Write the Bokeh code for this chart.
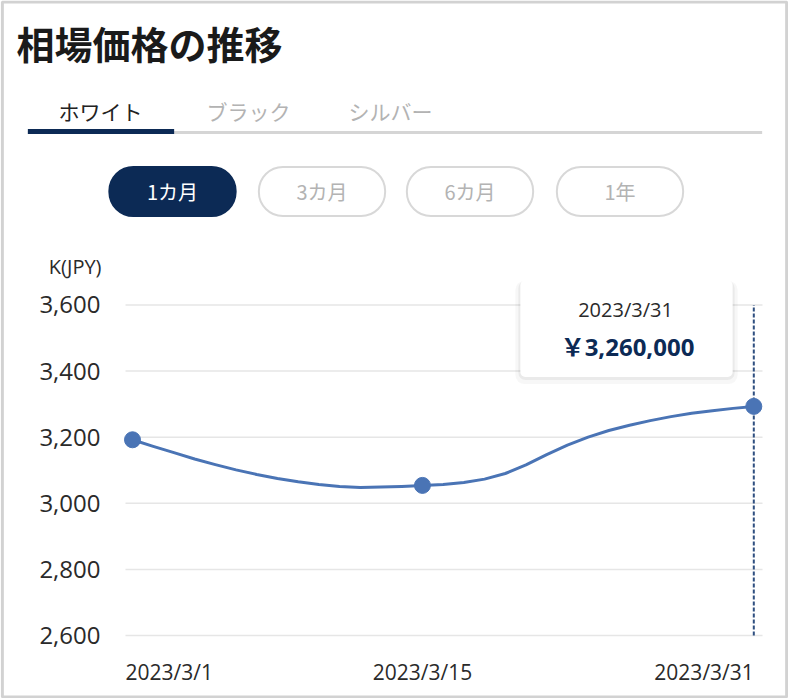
from datetime import datetime, timedelta

from bokeh.plotting import figure
from bokeh.models import (Label, Range1d, FixedTicker, NumeralTickFormatter,
                          LinearAxis)
from bokeh.embed import file_html
from bokeh.resources import INLINE

# ---------------- data ----------------
title = "相場価格の推移"
tabs = ["ホワイト", "ブラック", "シルバー"]
periods = ["1カ月", "3カ月", "6カ月", "1年"]
y_unit = "K(JPY)"

days = list(range(1, 32))  # 2023-03-01 .. 2023-03-31
prices_k = [3192, 3172, 3153, 3134, 3117, 3101, 3087, 3075, 3065, 3057,
            3051, 3048, 3049, 3051, 3054, 3057, 3063, 3073, 3090, 3116,
            3147, 3176, 3200, 3220, 3236, 3250, 3262, 3272, 3280, 3287, 3293]
marker_days = [1, 15, 31]
x_tick_days = [1, 15, 31]
x_tick_labels = ["2023/3/1", "2023/3/15", "2023/3/31"]
y_ticks = [2600, 2800, 3000, 3200, 3400, 3600]
tooltip_day = 31
tooltip_date = "2023/3/31"
tooltip_price = "￥3,260,000"

dates = [datetime(2023, 3, d) for d in days]
marker_dates = [datetime(2023, 3, d) for d in marker_days]
marker_vals = [prices_k[days.index(d)] for d in marker_days]

# ---------------- style / layout ----------------
NAVY = "#0c2a55"
LINE = "#4a74b5"
GRID = "#e6e6e6"
GRAY_TXT = "#b3b3b3"
DARK = "#222222"
JP = "Noto Sans CJK JP"
LAT = "Open Sans"

W, H = 788, 698
# chart area in canvas pixels
CL, CR = 125, 762          # gridline extent
X_FIRST, X_LAST = 132, 753.3
Y_LO_PX, Y_HI_PX = 635.0, 304.4   # pixel rows of y_ticks[0] and y_ticks[-1]

d_first = datetime(2023, 3, x_tick_days[0])
d_last = datetime(2023, 3, x_tick_days[-1])
px_per_day = (X_LAST - X_FIRST) / (x_tick_days[-1] - x_tick_days[0])
px_per_unit = (Y_LO_PX - Y_HI_PX) / (y_ticks[-1] - y_ticks[0])

x_start = d_first - timedelta(days=X_FIRST / px_per_day)
x_end = d_last + timedelta(days=(W - X_LAST) / px_per_day)
y_start = y_ticks[0] - (H - Y_LO_PX) / px_per_unit
y_end = y_ticks[-1] + Y_HI_PX / px_per_unit

chart_left = d_first - timedelta(days=(X_FIRST - CL) / px_per_day)
chart_right = d_last + timedelta(days=(CR - X_LAST) / px_per_day)


def ms(dt):
    return (dt - datetime(1970, 1, 1)).total_seconds() * 1000.0


p = figure(width=W, height=H, x_axis_type="datetime",
           x_range=Range1d(x_start, x_end), y_range=Range1d(y_start, y_end),
           x_axis_location=None, y_axis_location=None,
           min_border=0, output_backend="svg", toolbar_location=None)
p.min_border_left = p.min_border_right = p.min_border_top = p.min_border_bottom = 0
p.background_fill_color = "white"
p.border_fill_color = "white"
p.outline_line_color = None
p.xgrid.visible = False
p.ygrid.visible = False

# y axis drawn at the chart's left edge
yax = LinearAxis(fixed_location=ms(chart_left))
yax.ticker = FixedTicker(ticks=y_ticks)
yax.formatter = NumeralTickFormatter(format="0,0")
yax.axis_line_color = None
yax.major_tick_line_color = None
yax.minor_tick_line_color = None
yax.major_tick_out = 0
yax.major_tick_in = 0
yax.major_label_standoff = 25
yax.major_label_text_font = LAT
yax.major_label_text_font_size = "24px"
yax.major_label_text_color = "#2a2a2a"
p.add_layout(yax, "left")

# horizontal gridlines at the y ticks, limited to the chart width
p.segment(x0=[chart_left] * len(y_ticks), x1=[chart_right] * len(y_ticks),
          y0=y_ticks, y1=y_ticks, line_color=GRID, line_width=1.5)

# dashed cursor line at the tooltip date
p.segment(x0=[datetime(2023, 3, tooltip_day)], x1=[datetime(2023, 3, tooltip_day)],
          y0=[y_ticks[0]], y1=[y_ticks[-1]], line_color="#2f4f80",
          line_width=2, line_dash="4 2")

# data line and markers
p.line(dates, prices_k, line_width=3, color=LINE, line_join="round")
p.scatter(marker_dates, marker_vals, size=16, color=LINE)


def sx(cx):
    return cx


def sy(cy):
    return H - cy


def box(cx, cy, w, h, fill=None, line=None, lw=0, radius=0, alpha=1.0):
    return Label(x=sx(cx), y=sy(cy), x_units="screen", y_units="screen",
                 text=" ", text_font_size="1px", text_align="center",
                 text_baseline="middle",
                 padding=dict(left=w // 2, right=w // 2, top=h // 2, bottom=h // 2),
                 border_radius=radius,
                 background_fill_color=fill, background_fill_alpha=alpha,
                 border_line_color=line, border_line_width=lw)


def txt(cx, cy, text, size, color, font=JP, style="normal", align="center"):
    return Label(x=sx(cx), y=sy(cy), x_units="screen", y_units="screen",
                 text=text, text_font=font, text_font_size=size,
                 text_font_style=style, text_color=color,
                 text_align=align, text_baseline="middle")


# x tick labels (first left aligned, middle centred, last right aligned)
aligns = ["left", "center", "right"]
offsets = [-7, 0, 0]
for d, lab, al, off in zip(x_tick_days, x_tick_labels, aligns, offsets):
    p.add_layout(Label(x=datetime(2023, 3, d), y=sy(671), y_units="screen",
                       x_offset=off, text=lab, text_font=LAT,
                       text_font_size="21px", text_color="#2a2a2a",
                       text_align=al, text_baseline="middle"))

# y unit label
p.add_layout(txt(101, 266, y_unit, "20px", "#2a2a2a", font=LAT, align="right"))

# title
p.add_layout(txt(16, 42, title, "38px", "#1a1a1a", style="bold", align="left"))

# tabs
tab_centers = [100, 248, 390]
for i, (t, c) in enumerate(zip(tabs, tab_centers)):
    p.add_layout(txt(c, 110, t, "21px", DARK if i == 0 else GRAY_TXT))
p.add_layout(box((27 + 762) / 2, 132, 735, 2, fill="#d5d5d5"))
p.add_layout(box((27 + 174) / 2, 131, 147, 4, fill=NAVY))

# period buttons
btn_centers = [172, 321.5, 469.5, 619.5]
for i, (t, c) in enumerate(zip(periods, btn_centers)):
    if i == 0:
        p.add_layout(box(c, 191, 128, 50, fill=NAVY, radius=25))
        p.add_layout(txt(c, 191, t, "20px", "white"))
    else:
        p.add_layout(box(c, 191, 126, 48, fill="white", line="#d8d8d8", lw=2, radius=24))
        p.add_layout(txt(c, 191, t, "20px", GRAY_TXT))

# tooltip
p.add_layout(box(626, 332, 222, 102, fill="black", alpha=0.03, radius=9))
p.add_layout(box(626, 330, 216, 98, fill="black", alpha=0.05, radius=7))
p.add_layout(box(626, 328, 212, 96, fill="white", radius=5))
p.add_layout(txt(625, 309, tooltip_date, "20px", "#2a2a2a", font=LAT))
p.add_layout(txt(627, 346, tooltip_price, "24px", NAVY,
                 font="'Open Sans', 'Noto Sans CJK JP'", style="bold"))

# outer border
p.add_layout(box(394, 349, 785, 695, fill=None, line="#d2d2d2", lw=3))

open("out.html", "w").write(file_html(p, INLINE))
